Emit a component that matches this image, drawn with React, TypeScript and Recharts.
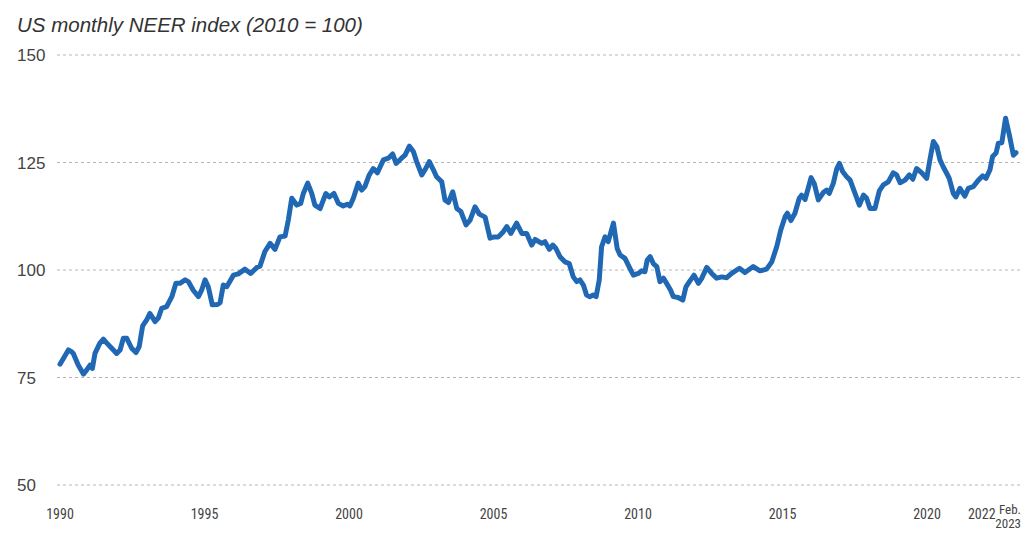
import React from 'react';
import { LineChart, Line, XAxis, YAxis, CartesianGrid } from 'recharts';

// decimal years (Jan 1990 .. Feb 2023)
const dates = [
  1990.0, 1990.29, 1990.4, 1990.46, 1990.63, 1990.81, 1990.92, 1991.04, 1991.12, 1991.21,
  1991.38, 1991.5, 1991.62, 1991.79, 1991.96, 1992.08, 1992.19, 1992.31, 1992.48, 1992.63,
  1992.74, 1992.86, 1993.0, 1993.11, 1993.29, 1993.4, 1993.52, 1993.69, 1993.87, 1994.01,
  1994.15, 1994.33, 1994.44, 1994.61, 1994.79, 1994.9, 1995.02, 1995.13, 1995.27, 1995.45,
  1995.54, 1995.65, 1995.77, 1996.0, 1996.17, 1996.4, 1996.6, 1996.81, 1996.92, 1997.09,
  1997.27, 1997.44, 1997.61, 1997.79, 1997.9, 1998.02, 1998.19, 1998.33, 1998.42, 1998.57,
  1998.71, 1998.82, 1999.0, 1999.2, 1999.32, 1999.48, 1999.63, 1999.8, 1999.94, 2000.03,
  2000.15, 2000.32, 2000.44, 2000.55, 2000.7, 2000.84, 2000.98, 2001.19, 2001.36, 2001.51,
  2001.63, 2001.82, 2001.94, 2002.09, 2002.23, 2002.34, 2002.52, 2002.63, 2002.78, 2002.92,
  2003.03, 2003.21, 2003.32, 2003.44, 2003.59, 2003.73, 2003.87, 2004.05, 2004.19, 2004.36,
  2004.51, 2004.71, 2004.88, 2005.02, 2005.17, 2005.34, 2005.46, 2005.6, 2005.8, 2005.98,
  2006.15, 2006.32, 2006.44, 2006.67, 2006.78, 2006.93, 2007.05, 2007.16, 2007.3, 2007.47,
  2007.62, 2007.76, 2007.88, 2007.99, 2008.11, 2008.22, 2008.34, 2008.45, 2008.55, 2008.66,
  2008.74, 2008.86, 2008.97, 2009.15, 2009.28, 2009.38, 2009.55, 2009.72, 2009.84, 2010.01,
  2010.13, 2010.24, 2010.32, 2010.42, 2010.53, 2010.65, 2010.76, 2010.88, 2010.99, 2011.13,
  2011.22, 2011.39, 2011.55, 2011.66, 2011.78, 2011.94, 2012.09, 2012.2, 2012.38, 2012.55,
  2012.72, 2012.9, 2013.07, 2013.24, 2013.51, 2013.7, 2013.99, 2014.22, 2014.45, 2014.63,
  2014.8, 2014.94, 2015.09, 2015.17, 2015.29, 2015.43, 2015.58, 2015.66, 2015.78, 2015.89,
  2015.99, 2016.1, 2016.24, 2016.41, 2016.53, 2016.62, 2016.76, 2016.88, 2016.97, 2017.08,
  2017.22, 2017.34, 2017.51, 2017.66, 2017.8, 2017.91, 2018.03, 2018.2, 2018.35, 2018.49,
  2018.66, 2018.83, 2018.95, 2019.07, 2019.24, 2019.39, 2019.51, 2019.64, 2019.82, 2019.99,
  2020.1, 2020.22, 2020.34, 2020.45, 2020.56, 2020.68, 2020.77, 2020.91, 2021.0, 2021.14,
  2021.31, 2021.43, 2021.6, 2021.78, 2021.93, 2022.04, 2022.18, 2022.27, 2022.39, 2022.47,
  2022.59, 2022.72, 2022.85, 2022.99, 2023.08,
];

// NEER index, 2010 = 100
const neer = [
  78.1, 81.4, 81.0, 80.6, 77.9, 75.8, 76.7, 77.9, 77.1, 80.6,
  83.0, 83.9, 83.0, 81.8, 80.6, 81.4, 84.1, 84.1, 81.8, 80.8,
  82.2, 87.0, 88.4, 89.9, 88.0, 88.8, 91.1, 91.5, 93.8, 96.9,
  96.9, 97.7, 97.3, 95.3, 93.8, 95.3, 97.7, 96.1, 91.9, 92.0,
  92.4, 96.5, 96.1, 98.8, 99.1, 100.2, 99.2, 100.6, 100.9, 104.3,
  106.2, 104.8, 107.7, 107.9, 111.6, 116.7, 115.1, 115.5, 117.8, 120.2,
  117.8, 115.1, 114.3, 117.8, 117.0, 117.8, 115.5, 114.9, 115.3, 114.9,
  116.7, 120.2, 118.6, 119.4, 122.1, 123.6, 122.6, 125.6, 126.0, 127.0,
  124.8, 126.0, 126.7, 128.8, 127.5, 125.2, 122.1, 123.3, 125.2, 123.3,
  121.7, 120.5, 116.3, 115.7, 118.2, 114.3, 113.6, 110.5, 111.6, 114.7,
  113.0, 112.3, 107.4, 107.7, 107.7, 108.9, 110.1, 108.5, 110.9, 108.5,
  108.5, 105.8, 107.1, 106.2, 106.6, 104.8, 105.8, 105.0, 103.1, 101.9,
  101.5, 98.4, 97.3, 97.7, 96.5, 94.2, 93.8, 94.2, 93.8, 97.7,
  105.4, 107.7, 106.6, 110.9, 105.0, 103.5, 102.7, 100.4, 98.8, 99.2,
  99.8, 99.6, 102.3, 103.1, 101.5, 100.8, 97.3, 98.1, 96.9, 95.3,
  93.8, 93.6, 93.0, 96.1, 97.3, 98.8, 96.9, 98.0, 100.6, 99.2,
  98.1, 98.4, 98.2, 99.2, 100.4, 99.4, 100.8, 99.8, 100.2, 101.9,
  105.4, 109.3, 112.4, 113.2, 111.5, 113.2, 116.7, 117.4, 116.4, 119.0,
  121.5, 120.1, 116.3, 118.0, 118.6, 117.8, 120.2, 123.6, 124.8, 122.9,
  121.7, 120.9, 117.8, 115.1, 117.4, 116.7, 114.3, 114.3, 118.4, 119.8,
  120.5, 122.6, 122.1, 120.3, 120.9, 122.1, 121.1, 123.6, 122.6, 121.3,
  125.6, 129.9, 128.7, 125.6, 124.0, 122.5, 121.3, 117.8, 117.0, 119.0,
  117.2, 119.0, 119.4, 120.9, 121.9, 121.3, 123.3, 126.4, 127.2, 129.5,
  129.6, 135.3, 131.4, 126.7, 127.3,
];

const yearTicks = [1990, 1995, 2000, 2005, 2010, 2015, 2020, 2022, 2023.08];
const yTicks = [50, 75, 100, 125, 150];
const lastLabel = ['Feb.', '2023'];

const data = dates.map((d, i) => ({ date: d, value: neer[i] }));

const YTick = (props: any) => {
  const { y, payload } = props;
  return (
    <text x={9} y={y} dy={6} textAnchor="start" fill="#444" fontSize={17}
      fontFamily="'Liberation Sans', Arial, sans-serif">
      {payload.value}
    </text>
  );
};

const tickFont = "'Liberation Sans Narrow', 'Roboto Condensed', 'Liberation Sans', sans-serif";

const XTick = (props: any) => {
  const { x, y, payload } = props;
  const isLast = payload.value === yearTicks[yearTicks.length - 1];
  const isTight = payload.value === 2022;
  if (isLast) {
    // two-line end label as two separate texts, right-aligned inside the frame
    return (
      <g>
        <text x={x + 5} y={y + 21} textAnchor="end" fill="#444" fontSize={13} fontFamily={tickFont}>
          {lastLabel[0]}
        </text>
        <text x={x + 5} y={y + 35} textAnchor="end" fill="#444" fontSize={13} fontFamily={tickFont}>
          {lastLabel[1]}
        </text>
      </g>
    );
  }
  return (
    <text x={isTight ? x - 3 : x} y={y + 26} textAnchor="middle" fill="#444" fontSize={14} fontFamily={tickFont}>
      {payload.value}
    </text>
  );
};

export default function App() {
  return (
    <div style={{ position: 'relative', width: 1023, height: 531, marginBottom: -8 }}>
      <div
        style={{
          position: 'absolute',
          left: 9,
          top: 5,
          fontFamily: "'Liberation Sans', Arial, sans-serif",
          fontStyle: 'italic',
          fontSize: 20.5,
          color: '#333',
          whiteSpace: 'nowrap',
        }}
      >
        US monthly NEER index (2010 = 100)
      </div>
      <LineChart
        width={1023}
        height={531}
        data={data}
        margin={{ top: 47, right: 9, left: 0, bottom: 0 }}
      >
        <CartesianGrid vertical={false} stroke="#b5b5b5" strokeDasharray="3 3" />
        <XAxis
          dataKey="date"
          type="number"
          domain={[1990, 2023.08]}
          ticks={yearTicks}
          interval={0}
          padding={{ left: 3, right: 6 }}
          axisLine={false}
          tickLine={false}
          height={54}
          tick={<XTick />}
        />
        <YAxis
          type="number"
          domain={[50, 150]}
          ticks={yTicks}
          interval={0}
          axisLine={false}
          tickLine={false}
          width={49}
          tick={<YTick />}
        />
        <Line
          type="linear"
          dataKey="value"
          stroke="#2068b4"
          strokeWidth={5}
          strokeLinejoin="round"
          strokeLinecap="round"
          dot={false}
          isAnimationActive={false}
        />
      </LineChart>
    </div>
  );
}
